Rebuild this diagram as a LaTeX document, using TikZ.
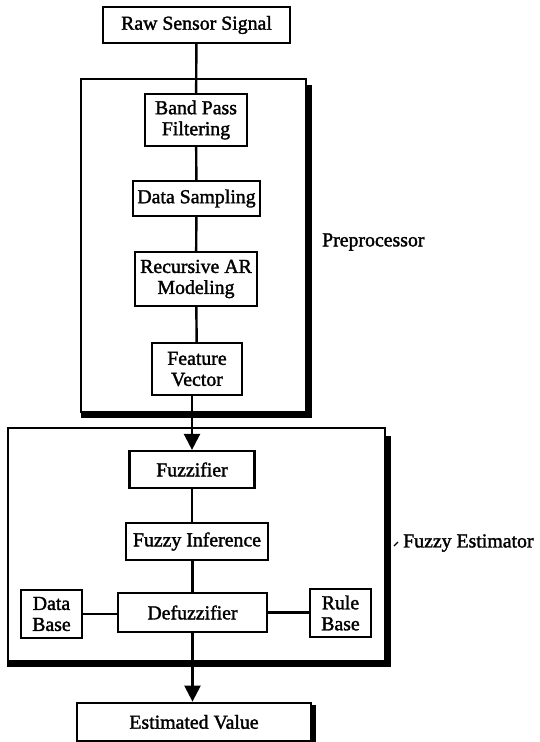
\documentclass[tikz,border=0pt]{standalone}
\usepackage{fontspec}
\setmainfont{Liberation Serif}[FakeBold=1.6,RawFeature={embolden=1.6}]
\usetikzlibrary{arrows.meta,calc}
\begin{document}
\begin{tikzpicture}[x=1pt,y=-1pt,
  every node/.style={font=\fontsize{19.8}{21}\selectfont},
  blk/.style={draw,line width=2.2pt,inner sep=0pt,align=center},
  container/.style={draw,line width=2pt,inner sep=0pt},
  shadowline/.style={line width=5pt},
  conn/.style={line width=2.4pt},
  arr/.style={line width=2.4pt,-{Triangle[width=16pt,length=16pt]}},
  lbl/.style={anchor=west,inner sep=0pt}]
\useasboundingbox (0,0) rectangle (539,742);
\fill[white] (0,0) rectangle (539,742);

% containers
\node[container,minimum width=225pt,minimum height=333pt] (pre) at (193.5,245.5) {};
\draw[shadowline] ($(pre.north east)+(2.5,7)$) -- ($(pre.south east)+(2.5,2.5)$) -- ($(pre.south west)+(1,2.5)$);
\node[container,minimum width=377pt,minimum height=233pt] (fe) at (196.5,544.5) {};
\draw[shadowline] ($(fe.north east)+(2.5,9)$) -- ($(fe.south east)+(2.5,2.5)$) -- ($(fe.south west)+(0,2.5)$);

% blocks
\node[blk,minimum width=187pt,minimum height=36pt] (raw) at (196.5,25) {Raw Sensor Signal};
\node[blk,minimum width=102pt,minimum height=52pt] (bpf) at (196,120) {Band Pass\\Filtering};
\node[blk,minimum width=127pt,minimum height=35pt] (ds) at (196.5,198.5) {Data Sampling};
\node[blk,minimum width=122pt,minimum height=54pt] (rar) at (196,279) {Recursive AR\\Modeling};
\node[blk,minimum width=90pt,minimum height=52pt] (fv) at (197,369) {Feature\\Vector};

\node[blk,minimum width=125pt,minimum height=37pt] (fz) at (192,469.5) {Fuzzifier};
\node[blk,minimum width=142pt,minimum height=37pt] (fi) at (197,541.5) {Fuzzy Inference};
\node[blk,minimum width=149pt,minimum height=39pt] (dfz) at (192.5,612.5) {Defuzzifier};
\node[blk,minimum width=61pt,minimum height=48pt] (db) at (51.5,614) {Data\\Base};
\node[blk,minimum width=61pt,minimum height=48pt] (rb) at (340.5,613) {Rule\\Base};
\node[blk,line width=2.8pt,minimum width=234pt,minimum height=38pt] (ev) at (194,722) {Estimated Value};
\draw[line width=3.5pt] ($(ev.north east)+(1.5,3)$) -- ($(ev.south east)+(1.5,0)$);

% labels
\node[lbl] (prel) at (322,242) {Preprocessor};
\node[lbl] (fel) at (403,543) {Fuzzy Estimator};
\draw[line width=1.2pt] (394,546) -- (398,542);

% connectors
\draw[conn] (raw) -- (bpf);
\draw[conn] (bpf) -- (ds);
\draw[conn] (ds) -- (rar);
\draw[conn] (rar) -- (fv);
\draw[arr] (fz.north |- fv.south) -- (fz.north);
\draw[conn] (fz.south) -- (fz.south |- fi.north);
\draw[conn] (dfz.north |- fi.south) -- (dfz.north);
\draw[conn] (db.east) -- (db.east -| dfz.west);
\draw[conn] (dfz.east) -- (dfz.east -| rb.west);
\draw[arr] (dfz.south) -- (dfz.south |- ev.north);
\end{tikzpicture}
\end{document}
